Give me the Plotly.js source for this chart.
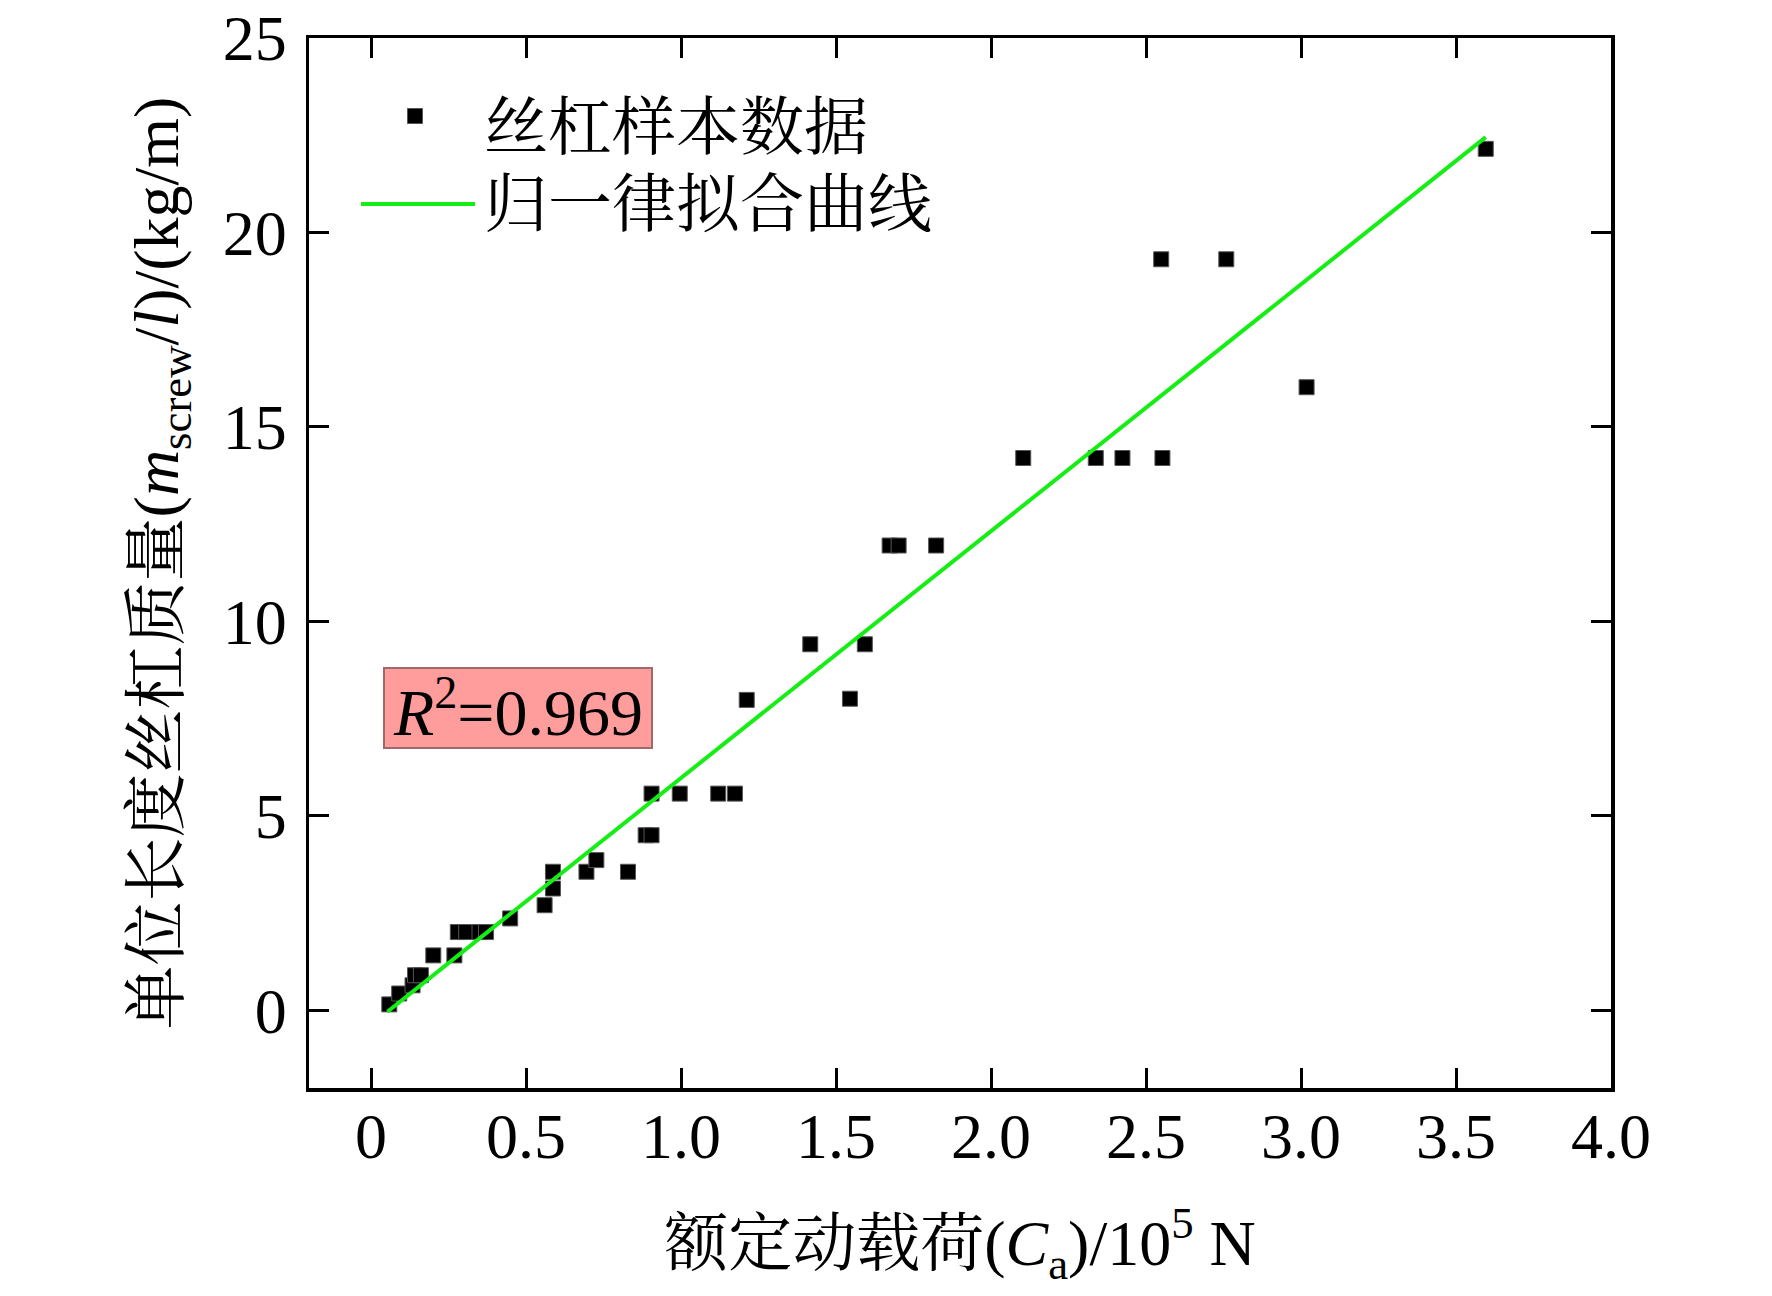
<!DOCTYPE html>
<html>
<head>
<meta charset="utf-8">
<script src="https://cdn.plot.ly/plotly-3.0.1.min.js"></script>
<style>
  html, body { margin: 0; padding: 0; background: #fff; }
  #chart { width: 1772px; height: 1296px; }
</style>
</head>
<body>
<div id="chart"></div>
<script>
// Sample data: rated dynamic load (10^5 N) vs. mass per unit length (kg/m)
const loadX = [0.059, 0.091, 0.134, 0.142, 0.161, 0.201, 0.269, 0.280, 0.307, 0.350,
               0.371, 0.449, 0.560, 0.587, 0.587, 0.695, 0.727, 0.829, 0.886, 0.905,
               0.905, 0.996, 1.120, 1.174, 1.212, 1.417, 1.545, 1.593, 1.673, 1.702,
               1.823, 2.104, 2.338, 2.424, 2.553, 2.549, 2.759, 3.018, 3.596];
const massY = [0.15, 0.43, 0.64, 0.90, 0.90, 1.41, 1.41, 2.01, 2.01, 2.01,
               2.01, 2.36, 2.70, 3.13, 3.56, 3.56, 3.86, 3.56, 4.50, 4.50,
               5.57, 5.57, 5.57, 5.57, 7.98, 9.41, 8.01, 9.41, 11.95, 11.95,
               11.95, 14.20, 14.20, 14.20, 14.20, 19.31, 19.31, 16.02, 22.15];

// Fitted line endpoints
const fitX = [0.053, 3.596];
const fitY = [-0.04, 22.45];

const xTickVals = [0, 0.5, 1.0, 1.5, 2.0, 2.5, 3.0, 3.5, 4.0];
const xTickText = ['0', '0.5', '1.0', '1.5', '2.0', '2.5', '3.0', '3.5', '4.0'];
const yTickVals = [0, 5, 10, 15, 20, 25];
const yTickText = ['0', '5', '10', '15', '20', '25'];

const seriesNames = ['丝杠样本数据', '归一律拟合曲线'];
const r2Text = '<i>R</i><sup>2</sup>=0.969';

const FONT = "'Liberation Serif', 'Times New Roman', 'Noto Serif CJK SC', 'Noto Sans CJK SC', serif";
const GREEN = '#14ee14';

const traces = [
  {
    x: loadX, y: massY, type: 'scatter', mode: 'markers', name: seriesNames[0],
    marker: { symbol: 'square', size: 15, color: '#000', line: { color: '#555', width: 1 } },
    showlegend: false
  },
  {
    x: fitX, y: fitY, type: 'scatter', mode: 'lines', name: seriesNames[1],
    line: { color: GREEN, width: 4 },
    showlegend: false
  }
];

const L = 309, R = 1611, T = 38, B = 1088;
const PW = R - L, PH = B - T;
const px = ax => (ax - L) / PW;
const py = ay => (B - ay) / PH;

const layout = {
  width: 1772, height: 1296,
  margin: { l: L, r: 1772 - R, t: T, b: 1296 - B, pad: 0 },
  paper_bgcolor: '#fff', plot_bgcolor: '#fff',
  font: { family: FONT, size: 64, color: '#000' },
  showlegend: false,
  xaxis: {
    range: [-0.2, 4.0], tickmode: 'array', tickvals: xTickVals, ticktext: xTickText,
    ticks: 'inside', ticklen: 20, tickwidth: 3, tickcolor: '#000',
    showline: true, linewidth: 3.5, linecolor: '#000', mirror: 'ticks',
    showgrid: false, zeroline: false,
    tickfont: { family: FONT, size: 64, color: '#000' },
    ticklabelstandoff: -10,
    title: { text: '额定动载荷(<i>C</i><sub>a</sub>)/10<sup>5</sup> N', font: { family: FONT, size: 64, color: '#000' }, standoff: 50 },
    automargin: false
  },
  yaxis: {
    range: [-2, 25], tickmode: 'array', tickvals: yTickVals, ticktext: yTickText,
    ticks: 'inside', ticklen: 20, tickwidth: 3, tickcolor: '#000',
    showline: true, linewidth: 3.5, linecolor: '#000', mirror: 'ticks',
    showgrid: false, zeroline: false,
    tickfont: { family: FONT, size: 64, color: '#000' },
    ticklabelstandoff: 6,
    title: { text: '单位长度丝杠质量(<i>m</i><sub>screw</sub>/<i>l</i>)/(kg/m)', font: { family: FONT, size: 64, color: '#000' }, standoff: 24 },
    automargin: false
  },
  shapes: [
    // legend: marker sample
    { type: 'rect', xref: 'paper', yref: 'paper', xsizemode: 'pixel', ysizemode: 'pixel',
      xanchor: px(415), yanchor: py(116), x0: -7.5, x1: 7.5, y0: -7.5, y1: 7.5,
      fillcolor: '#000', line: { color: '#555', width: 1 } },
    // legend: line sample
    { type: 'line', xref: 'paper', yref: 'paper', x0: px(361), x1: px(475), y0: py(204), y1: py(204),
      line: { color: GREEN, width: 4 } }
  ],
  annotations: [
    { xref: 'paper', yref: 'paper', x: px(482), y: py(127), xanchor: 'left', yanchor: 'middle',
      text: seriesNames[0], showarrow: false, font: { family: FONT, size: 64, color: '#000' } },
    { xref: 'paper', yref: 'paper', x: px(482), y: py(205), xanchor: 'left', yanchor: 'middle',
      text: seriesNames[1], showarrow: false, font: { family: FONT, size: 64, color: '#000' } },
    { xref: 'paper', yref: 'paper', x: px(518), y: py(708), xanchor: 'center', yanchor: 'middle',
      text: r2Text, showarrow: false, font: { family: FONT, size: 66, color: '#000' },
      width: 262, height: 74, borderpad: 2, borderwidth: 2,
      bgcolor: '#ff9c9c', bordercolor: '#a06a6a' }
  ]
};

Plotly.newPlot('chart', traces, layout, { displayModeBar: false, staticPlot: true });
</script>
</body>
</html>
